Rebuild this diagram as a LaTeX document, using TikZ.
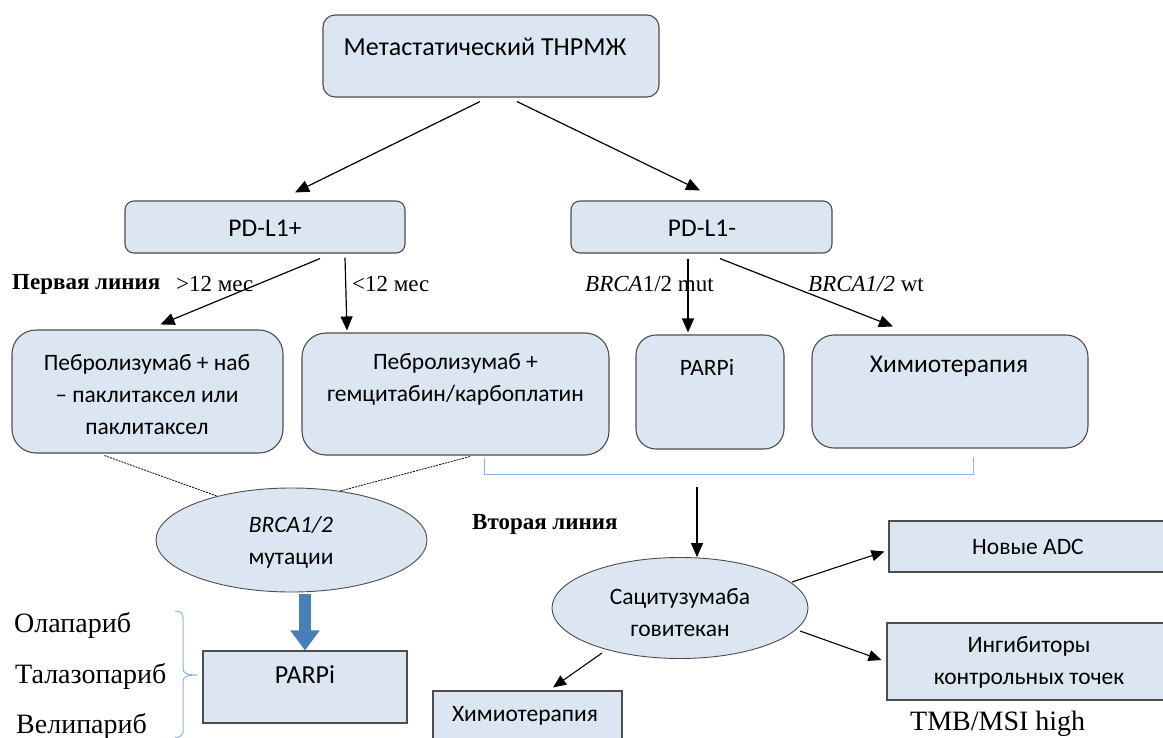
\documentclass[tikz,border=0pt]{standalone}
\usepackage{fontspec}
\setmainfont{Carlito}
\newfontfamily\tnr{Liberation Serif}
\usetikzlibrary{shapes.geometric,arrows.meta,calc}
\definecolor{boxfill}{HTML}{DCE6F2}
\definecolor{boxline}{HTML}{4D4D4D}
\definecolor{bluearrow}{HTML}{4A7EBB}
\definecolor{bracketblue}{HTML}{8DB3E2}
\tikzset{
  rbox/.style={draw=boxline, fill=boxfill, line width=1.1pt, rounded corners=#1, inner sep=0pt},
  rbox/.default=12pt,
  sbox/.style={draw=boxline, fill=boxfill, line width=1.1pt, inner sep=0pt},
  ell/.style={ellipse, draw=boxline, fill=boxfill, line width=0.9pt, inner sep=0pt},
  txt/.style={inner sep=0pt, align=center, font=\fontsize{23.5}{32}\selectfont},
  lbl/.style={inner sep=0pt, anchor=west, font=\tnr\fontsize{23}{26}\selectfont},
  drug/.style={inner sep=0pt, anchor=west, font=\tnr\fontsize{28}{30}\selectfont},
  arr/.style={line width=1.2pt, -{Triangle[length=14pt,width=12pt]}},
  sarr/.style={line width=1.1pt, -{Triangle[length=13pt,width=11pt]}},
  dots/.style={line width=0.8pt, dash pattern=on 2pt off 1pt},
  bracket/.style={bracketblue, line width=1pt},
}
\begin{document}
\begin{tikzpicture}[x=1pt,y=-1pt]
\useasboundingbox (0,0) rectangle (1163,737);
\fill[white] (0,0) rectangle (1163,737);

% boxes
\node[rbox, minimum width=336pt, minimum height=82pt] (top) at (491,56) {};
\node[txt, font=\fontsize{26}{30}\selectfont] (toptxt) at (485,47) {Метастатический ТНРМЖ};

\node[rbox=9pt, minimum width=280pt, minimum height=52pt] (pdp) at (265,227) {};
\node[txt, font=\fontsize{25.5}{28}\selectfont] (pdptxt) at (265,228) {PD-L1+};

\node[rbox=9pt, minimum width=261pt, minimum height=52pt] (pdm) at (701.5,227) {};
\node[txt, font=\fontsize{25.5}{28}\selectfont] (pdmtxt) at (702,228) {PD-L1-};

\node[rbox=24pt, minimum width=271pt, minimum height=123pt] (peb1) at (147.5,391.5) {};
\node[txt] (peb1txt) at (147,395) {Пебролизумаб + наб\\– паклитаксел или\\паклитаксел};

\node[rbox=24pt, minimum width=307pt, minimum height=122pt] (peb2) at (455.5,394) {};
\node[txt] (peb2txt) at (455.5,379) {Пебролизумаб +\\гемцитабин/карбоплатин};

\node[rbox=20pt, minimum width=148pt, minimum height=114pt] (parp1) at (710,392) {};
\node[txt] (parp1txt) at (707,367) {PARPi};

\node[rbox=22pt, minimum width=276pt, minimum height=113pt] (chemo1) at (950,391.5) {};
\node[txt, font=\fontsize{25.5}{28}\selectfont] (chemo1txt) at (949,366) {Химиотерапия};

\node[ell, minimum width=271pt, minimum height=104pt] (brca) at (291.5,540) {};
\node[txt] (brcatxt) at (291,542) {\textit{BRCA1/2}\\мутации};

\node[ell, minimum width=256pt, minimum height=101pt] (sac) at (680,608) {};
\node[txt] (sactxt) at (680,613) {Сацитузумаба\\говитекан};

\node[sbox, minimum width=280pt, minimum height=51pt] (adc) at (1029,546.5) {};
\node[txt] (adctxt) at (1028,547) {Новые ADC};

\node[sbox, minimum width=282pt, minimum height=77pt] (ing) at (1028,661.5) {};
\node[txt] (ingtxt) at (1029,662) {Ингибиторы\\контрольных точек};

\node[sbox, minimum width=204pt, minimum height=72pt] (parp2) at (305,687) {};
\node[txt, font=\fontsize{26}{30}\selectfont] (parp2txt) at (305,675) {PARPi};

\node[sbox, minimum width=189pt, minimum height=60pt] (chemo2) at (527.5,721) {};
\node[txt] (chemo2txt) at (525,716) {Химиотерапия};

% labels
\node[lbl, font=\tnr\bfseries\fontsize{23}{26}\selectfont] (l1) at (12,284) {Первая линия};
\node[lbl] (l2) at (176,284) {>12 мес};
\node[lbl] (l3) at (352,284) {<12 мес};
\node[lbl] (l4) at (585,284) {\textit{BRCA}1/2 mut};
\node[lbl] (l5) at (808,284) {\textit{BRCA1/2} wt};
\node[lbl, font=\tnr\bfseries\fontsize{23}{26}\selectfont] (l6) at (472,524) {Вторая линия};
\node[lbl, font=\tnr\fontsize{28}{30}\selectfont] (l7) at (910,724) {TMB/MSI high};

\node[drug] (d1) at (14,625) {Олапариб};
\node[drug] (d2) at (15,676) {Талазопариб};
\node[drug] (d3) at (16,726) {Велипариб};

% connectors
\draw[arr] ([xshift=-11pt,yshift=-4pt]top.south) -- ([xshift=30pt,yshift=8pt]pdp.north);
\draw[arr] ([xshift=26pt,yshift=-4pt]top.south) -- ([xshift=-1.5pt,yshift=10pt]pdm.north);
\draw[arr] ([xshift=55pt,yshift=-5pt]pdp.south) -- ([xshift=13pt,yshift=5pt]peb1.north);
\draw[arr] ([xshift=80pt,yshift=-4pt]pdp.south) -- ([xshift=-108.5pt,yshift=2pt]peb2.north);
\draw[arr] ([xshift=-13.5pt,yshift=-5pt]pdm.south) -- ([xshift=-22pt,yshift=2pt]parp1.north);
\draw[arr] ([xshift=18.5pt,yshift=-5pt]pdm.south) -- ([xshift=-57pt,yshift=8pt]chemo1.north);

\draw[dots] ([xshift=-43pt,yshift=-2pt]peb1.south) -- ([xshift=-74.5pt,yshift=-8.5pt]brca.north);
\draw[dots] ([xshift=14.5pt,yshift=-1pt]peb2.south) -- ([xshift=48.5pt,yshift=-3.5pt]brca.north);

\draw[bracket] (484,458) -- (484,474) -- (973,474) -- (973,457);
\coordinate (brk) at (697,487);
\draw[arr] (brk) -- ([xshift=17pt,yshift=0pt]sac.north);

\draw[sarr] ($(sac.center)+(112,-26)$) -- ([xshift=-4pt,yshift=-5pt]adc.west);
\draw[sarr] ($(sac.center)+(120,23)$) -- ([xshift=-5pt,yshift=1.5pt]ing.west);
\draw[sarr] ($(sac.center)+(-78,45)$) -- ([xshift=25.5pt,yshift=3pt]chemo2.north);

\draw[bluearrow, line width=12pt, -{Triangle[length=20pt,width=28pt]}] ([xshift=13.5pt,yshift=-2pt]brca.south) -- (parp2.north);

% curly brace
\draw[bracket] (175,611) .. controls (180,611) and (183,613) .. (183,618) -- (183,668) .. controls (183,673) and (186,675) .. (197,675) .. controls (186,675) and (183,677) .. (183,682) -- (183,732) .. controls (183,735) and (180,737) .. (175,738);
\end{tikzpicture}
\end{document}
